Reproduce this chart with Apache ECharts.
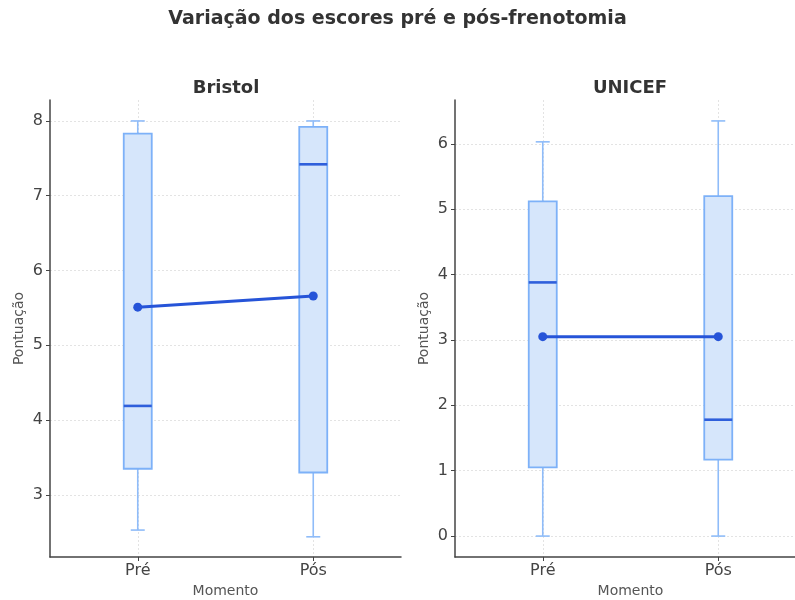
<!DOCTYPE html>
<html><head><meta charset="utf-8">
<script src="https://cdn.jsdelivr.net/npm/echarts@6/dist/echarts.min.js"></script>
<style>html,body{margin:0;padding:0;background:#fff}#c{width:795px;height:600px}</style>
</head><body><div id="c"></div>
<script>
const categories = ['Pré', 'Pós'];
const panelTitles = ['Bristol', 'UNICEF'];
// [min, Q1, median, Q3, max]
const bristolBox = [[2.53, 3.35, 4.19, 7.83, 8.0], [2.44, 3.30, 7.42, 7.92, 8.0]];
const bristolMean = [5.51, 5.66];
const unicefBox = [[0, 1.05, 3.88, 5.12, 6.03], [0, 1.17, 1.78, 5.20, 6.35]];
const unicefMean = [3.05, 3.05];
const bristolTicks = [3, 4, 5, 6, 7, 8];
const unicefTicks = [0, 1, 2, 3, 4, 5, 6];
const bristolRange = [2.17, 8.28];
const unicefRange = [-0.32, 6.67];
const xTicks = [1, 2];

const FONT = 'DejaVu Sans';
const boxFill = '#d6e6fb', boxBorder = '#7db1f8', whisk = '#8fbcf9', medColor = '#2f5fdb', meanColor = '#2654d8';

function renderBox(params, api) {
  const x = api.value(0);
  const mn = api.coord([x, api.value(1)]);
  const q1 = api.coord([x, api.value(2)]);
  const md = api.coord([x, api.value(3)]);
  const q3 = api.coord([x, api.value(4)]);
  const mx = api.coord([x, api.value(5)]);
  const hw = 14, cw = 7;
  const ls = {stroke: whisk, lineWidth: 1.6};
  return {type: 'group', children: [
    {type: 'line', shape: {x1: mx[0], y1: mx[1], x2: q3[0], y2: q3[1]}, style: ls},
    {type: 'line', shape: {x1: q1[0], y1: q1[1], x2: mn[0], y2: mn[1]}, style: ls},
    {type: 'line', shape: {x1: mx[0] - cw, y1: mx[1], x2: mx[0] + cw, y2: mx[1]}, style: ls},
    {type: 'line', shape: {x1: mn[0] - cw, y1: mn[1], x2: mn[0] + cw, y2: mn[1]}, style: ls},
    {type: 'rect', shape: {x: q3[0] - hw, y: q3[1], width: 2 * hw, height: q1[1] - q3[1]},
      style: {fill: boxFill, stroke: boxBorder, lineWidth: 1.8}},
    {type: 'line', shape: {x1: md[0] - hw, y1: md[1], x2: md[0] + hw, y2: md[1]},
      style: {stroke: medColor, lineWidth: 2.6}}
  ]};
}

function mkX(i) {
  return {type: 'value', gridIndex: i, min: 0.5, max: 2.5,
    name: 'Momento', nameLocation: 'middle', nameGap: 27,
    nameTextStyle: {fontFamily: FONT, fontSize: 14, color: '#555'},
    axisLine: {show: true, onZero: false, lineStyle: {color: '#444', width: 1.5}},
    axisTick: {show: true, length: 4, lineStyle: {color: '#444'}, customValues: xTicks},
    axisLabel: {customValues: xTicks, fontFamily: FONT, fontSize: 16, color: '#444', margin: 6,
      formatter: v => categories[Math.round(v) - 1] || ''},
    splitLine: {show: true, lineStyle: {color: '#e3e3e3', type: [2, 2], width: 1}}
  };
}
function mkY(i, rng, ticks) {
  return {type: 'value', gridIndex: i, min: rng[0], max: rng[1],
    name: 'Pontuação', nameLocation: 'middle', nameGap: 24,
    nameTextStyle: {fontFamily: FONT, fontSize: 14, color: '#555'},
    axisLine: {show: true, onZero: false, lineStyle: {color: '#444', width: 1.5}},
    axisTick: {show: true, length: 4, lineStyle: {color: '#444'}, customValues: ticks},
    axisLabel: {customValues: ticks, fontFamily: FONT, fontSize: 16, color: '#444', margin: 7},
    splitLine: {show: true, lineStyle: {color: '#e3e3e3', type: [2, 2], width: 1}}
  };
}

const chart = echarts.init(document.getElementById('c'), null, {renderer: 'canvas'});
const boxData = b => b.map((r, i) => [xTicks[i]].concat(r));
const meanData = m => m.map((v, i) => [xTicks[i], v]);
chart.setOption({
  animation: false,
  title: [
    {text: 'Variação dos escores pré e pós-frenotomia', left: 'center', top: 5,
      textStyle: {fontFamily: FONT, fontSize: 19, fontWeight: 'bold', color: '#333'}},
    {text: panelTitles[0], left: 221, textAlign: 'center', top: 74,
      textStyle: {fontFamily: FONT, fontSize: 18, fontWeight: 'bold', color: '#333'}},
    {text: panelTitles[1], left: 625, textAlign: 'center', top: 74,
      textStyle: {fontFamily: FONT, fontSize: 18, fontWeight: 'bold', color: '#333'}}
  ],
  grid: [
    {left: 50, right: 394, top: 100, bottom: 43, outerBoundsMode: 'none', containLabel: false},
    {left: 455, right: -11, top: 100, bottom: 43, outerBoundsMode: 'none', containLabel: false}
  ],
  xAxis: [mkX(0), mkX(1)],
  yAxis: [mkY(0, bristolRange, bristolTicks), mkY(1, unicefRange, unicefTicks)],
  series: [
    {type: 'custom', xAxisIndex: 0, yAxisIndex: 0, renderItem: renderBox, data: boxData(bristolBox),
      encode: {x: 0, y: [1, 2, 3, 4, 5]}},
    {type: 'custom', xAxisIndex: 1, yAxisIndex: 1, renderItem: renderBox, data: boxData(unicefBox),
      encode: {x: 0, y: [1, 2, 3, 4, 5]}},
    {type: 'line', xAxisIndex: 0, yAxisIndex: 0, data: meanData(bristolMean), symbol: 'circle', symbolSize: 9,
      lineStyle: {color: meanColor, width: 3}, itemStyle: {color: meanColor}},
    {type: 'line', xAxisIndex: 1, yAxisIndex: 1, data: meanData(unicefMean), symbol: 'circle', symbolSize: 9,
      lineStyle: {color: meanColor, width: 3}, itemStyle: {color: meanColor}}
  ]
});
</script></body></html>
